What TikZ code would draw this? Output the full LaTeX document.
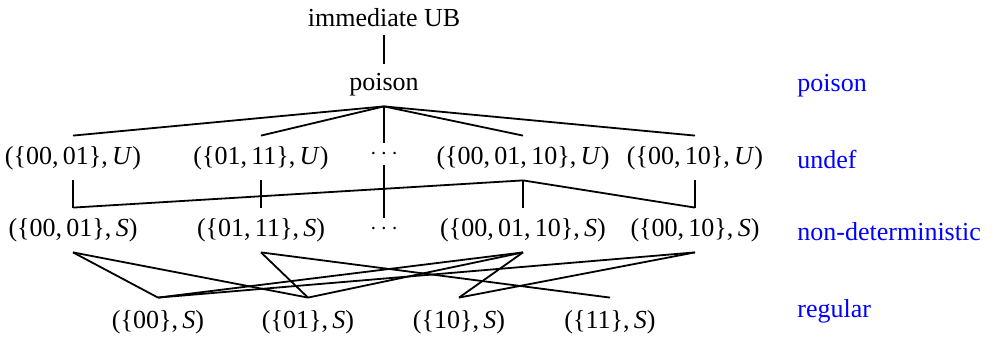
\documentclass[tikz,border=0pt]{standalone}
\usepackage{fontspec}
\setmainfont{Liberation Serif}
\begin{document}
\begin{tikzpicture}[x=0.5pt,y=-0.5pt,
  every node/.style={font=\fontsize{13}{16}\selectfont, inner sep=0pt},
  elem/.style={minimum height=22pt},
  regelem/.style={minimum height=24pt},
  dotsnode/.style={minimum height=11pt},
  lvl/.style={anchor=west, text=blue},
  edge/.style={line width=0.9pt}]
\useasboundingbox (0,0) rectangle (999,341);
% top
\node[minimum height=17pt] (ub) at (384,18) {immediate UB};
\node[minimum height=21pt] (po) at (384,85) {poison};
% undef row
\node[elem] (u1) at (73,158) {(\{00,\,01\},\,\textit{U})};
\node[elem] (u2) at (261,158) {(\{01,\,11\},\,\textit{U})};
\node[dotsnode] (ud) at (384,154) {$\cdots$};
\node[elem] (u3) at (523,158) {(\{00,\,01,\,10\},\,\textit{U})};
\node[elem] (u4) at (695,158) {(\{00,\,10\},\,\textit{U})};
% non-deterministic row
\node[elem] (n1) at (73,230) {(\{00,\,01\},\,\textit{S})};
\node[elem] (n2) at (261,230) {(\{01,\,11\},\,\textit{S})};
\node[dotsnode] (nd) at (384,229) {$\cdots$};
\node[elem] (n3) at (523,230) {(\{00,\,01,\,10\},\,\textit{S})};
\node[elem] (n4) at (695,230) {(\{00,\,10\},\,\textit{S})};
% regular row
\node[regelem] (r1) at (158,322) {(\{00\},\,\textit{S})};
\node[regelem] (r2) at (308,322) {(\{01\},\,\textit{S})};
\node[regelem] (r3) at (459,322) {(\{10\},\,\textit{S})};
\node[regelem] (r4) at (610,322) {(\{11\},\,\textit{S})};
% level labels
\node[lvl] (lp) at (797,86) {poison};
\node[lvl] (lu) at (797,159) {undef};
\node[lvl] (ln) at (797,232) {non-deterministic};
\node[lvl] (lr) at (797,311) {regular};
% edges
\draw[edge] (ub.south) -- (po.north);
\draw[edge] (po.south) -- (u1.north);
\draw[edge] (po.south) -- (u2.north);
\draw[edge] (po.south) -- (ud.north);
\draw[edge] (po.south) -- (u3.north);
\draw[edge] (po.south) -- (u4.north);
\draw[edge] (u1.south) -- (n1.north);
\draw[edge] (u2.south) -- (n2.north);
\draw[edge] (ud.south) -- (nd.north);
\draw[edge] (u3.south) -- (n3.north);
\draw[edge] (u4.south) -- (n4.north);
\draw[edge] (n1.north) -- (u3.south);
\draw[edge] (u3.south) -- (n4.north);
\draw[edge] (n1.south) -- (r1.north);
\draw[edge] (n1.south) -- (r2.north);
\draw[edge] (n2.south) -- (r2.north);
\draw[edge] (n2.south) -- (r4.north);
\draw[edge] (n3.south) -- (r1.north);
\draw[edge] (n3.south) -- (r2.north);
\draw[edge] (n3.south) -- (r3.north);
\draw[edge] (n4.south) -- (r1.north);
\draw[edge] (n4.south) -- (r3.north);
\end{tikzpicture}
\end{document}
